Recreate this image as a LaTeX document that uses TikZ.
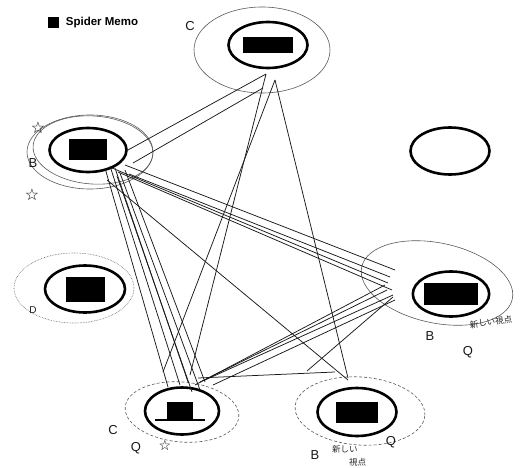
\documentclass[tikz,border=0pt]{standalone}
\usepackage{fontspec}
\setmainfont{Liberation Sans}
\newfontfamily\jpfont{Noto Sans CJK JP}
\newfontfamily\symfont{DejaVu Sans}
\usetikzlibrary{shapes.geometric,calc,positioning}

\begin{document}
\begin{tikzpicture}[x=1pt,y=-1pt,
  idea/.style={draw,ellipse,line width=2.6pt,minimum width=77pt,minimum height=44pt,inner sep=0pt},
  ring/.style={draw=black!65,line width=0.6pt},
  web/.style={draw=black!90,line width=0.75pt},
  hand/.style={inner sep=0pt,text=black!90,font=\fontsize{13}{13}\selectfont},
  star/.style={inner sep=0pt,text=black,font=\symfont\fontsize{16}{16}\selectfont},
  jp/.style={inner sep=0pt,text=black!85,font=\jpfont\fontsize{8.5}{9}\selectfont}]
  \useasboundingbox (0,0) rectangle (522,468);

  % title
  \node[fill,minimum size=11pt,inner sep=0pt] (bullet) at (53,23) {};
  \node[inner sep=0pt,right=7pt of bullet,font=\bfseries\fontsize{11.5}{12}\selectfont] (ttl) {Spider Memo};

  % outer rings
  \draw[ring] (262,50) ellipse [x radius=68pt,y radius=43pt];
  \draw[ring] (90,152) ellipse [x radius=63pt,y radius=37pt];
  \draw[ring] (93,150) ellipse [x radius=60pt,y radius=34pt,rotate=-4];
  \draw[ring,densely dotted] (74,288) ellipse [x radius=60pt,y radius=35pt];
  \draw[ring] (437,283) ellipse [x radius=77pt,y radius=40pt,rotate=-12];
  \draw[ring,densely dashed] (182,412) ellipse [x radius=57pt,y radius=30pt,rotate=-5];
  \draw[ring,densely dashed] (360,411) ellipse [x radius=65pt,y radius=34pt,rotate=-4];

  % ideas
  \node[idea,minimum width=79pt,minimum height=46pt] (topC) at (268,45)  {\rule{50pt}{16pt}};
  \node[idea]                                        (leftB) at (88,150) {\rule{38pt}{21pt}};
  \node[idea,minimum width=80pt,minimum height=47pt] (leftD) at (85,289) {\rule{39pt}{25pt}};
  \node[idea,minimum width=76pt,minimum height=45pt] (rightB) at (451,294) {\rule{54pt}{22pt}};
  \node[idea,minimum width=74pt,minimum height=47pt] (botC) at (182,411) {};
  \node[idea,minimum width=79pt,minimum height=48pt] (botB) at (357,412) {\rule{42pt}{21pt}};
  \node[idea,minimum width=79pt,minimum height=47pt] (empty) at (450,151) {};

  % hat in bottom C
  \fill (167,402) rectangle (193,420);
  \draw[line width=1.5pt] (155,420) -- (205,420);

  % hand labels
  \node[hand] (lC1) at (190,26) {C};
  \node[star] (lS1) at (38,128) {☆};
  \node[hand] (lB1) at (33,163) {B};
  \node[star] (lS2) at (32,195) {☆};
  \node[hand,font=\fontsize{10}{10}\selectfont] (lD) at (33,310) {D};
  \node[jp,rotate=8] (jpR) at (491,322) {新しい視点};
  \node[hand] (lB2) at (430,336) {B};
  \node[hand] (lQ1) at (468,352) {Q};
  \node[hand] (lC2) at (113,430) {C};
  \node[hand] (lQ2) at (136,448) {Q};
  \node[star,font=\symfont\fontsize{14}{14}\selectfont] (lS3) at (165,445) {☆};
  \node[hand] (lB3) at (315,455) {B};
  \node[jp,anchor=west] (jpB1) at (332,449) {新しい};
  \node[jp,anchor=west] (jpB2) at (349,462) {視点};
  \node[hand] (lQ3) at (391,442) {Q};

  % web of links
  \coordinate (hubC)  at (266,74);
  \coordinate (hubL)  at (115,168);
  \coordinate (hubBL) at (188,382);
  \coordinate (hubBR) at (345,376);
  \coordinate (hubR)  at (390,285);

  \draw[web] (hubC) -- ($(hubL)+(13,-18)$);
  \draw[web] ($(hubC)+(-3,14)$) -- ($(hubL)+(18,-5)$);
  \draw[web] (hubC) -- ($(hubBL)+(2,-7)$);
  \draw[web] ($(hubC)+(9,6)$) -- ($(hubBL)+(-25,-10)$);
  \draw[web] ($(hubC)+(9,6)$) -- ($(hubBR)+(3,2)$);

  \draw[web] ($(hubL)+(-3,0)$) -- ($(hubR)+(-2,-2)$);
  \draw[web] ($(hubL)+(3,4)$) -- ($(hubR)+(2,5)$);
  \draw[web] ($(hubL)+(10,-3)$) -- ($(hubR)+(5,-15)$);
  \draw[web] ($(hubL)+(14,6)$) -- ($(hubR)+(0,-8)$);
  \draw[web] ($(hubL)+(-5,-2)$) -- ($(hubBL)+(-8,3)$);
  \draw[web] (hubL) -- (hubBL);
  \draw[web] ($(hubL)+(5,5)$) -- ($(hubBL)+(12,8)$);
  \draw[web] ($(hubL)+(10,2)$) -- ($(hubBL)+(17,0)$);
  \draw[web] ($(hubL)+(-10,0)$) -- ($(hubBL)+(-20,5)$);
  \draw[web] ($(hubL)+(2,8)$) -- ($(hubBL)+(4,10)$);
  \draw[web] ($(hubL)+(-8,12)$) -- ($(hubBR)+(3,4)$);

  \draw[web] ($(hubBL)+(7,3)$) -- ($(hubR)+(-5,0)$);
  \draw[web] ($(hubBL)+(12,0)$) -- ($(hubR)+(-3,5)$);
  \draw[web] ($(hubBL)+(17,-2)$) -- ($(hubR)+(3,10)$);
  \draw[web] ($(hubBL)+(25,3)$) -- ($(hubR)+(5,15)$);
  \draw[web] ($(hubBL)+(10,-4)$) -- ($(hubBR)+(-10,-4)$);
  \draw[web] ($(hubBR)+(-38,-5)$) -- ($(hubR)+(3,12)$);
\end{tikzpicture}
\end{document}
